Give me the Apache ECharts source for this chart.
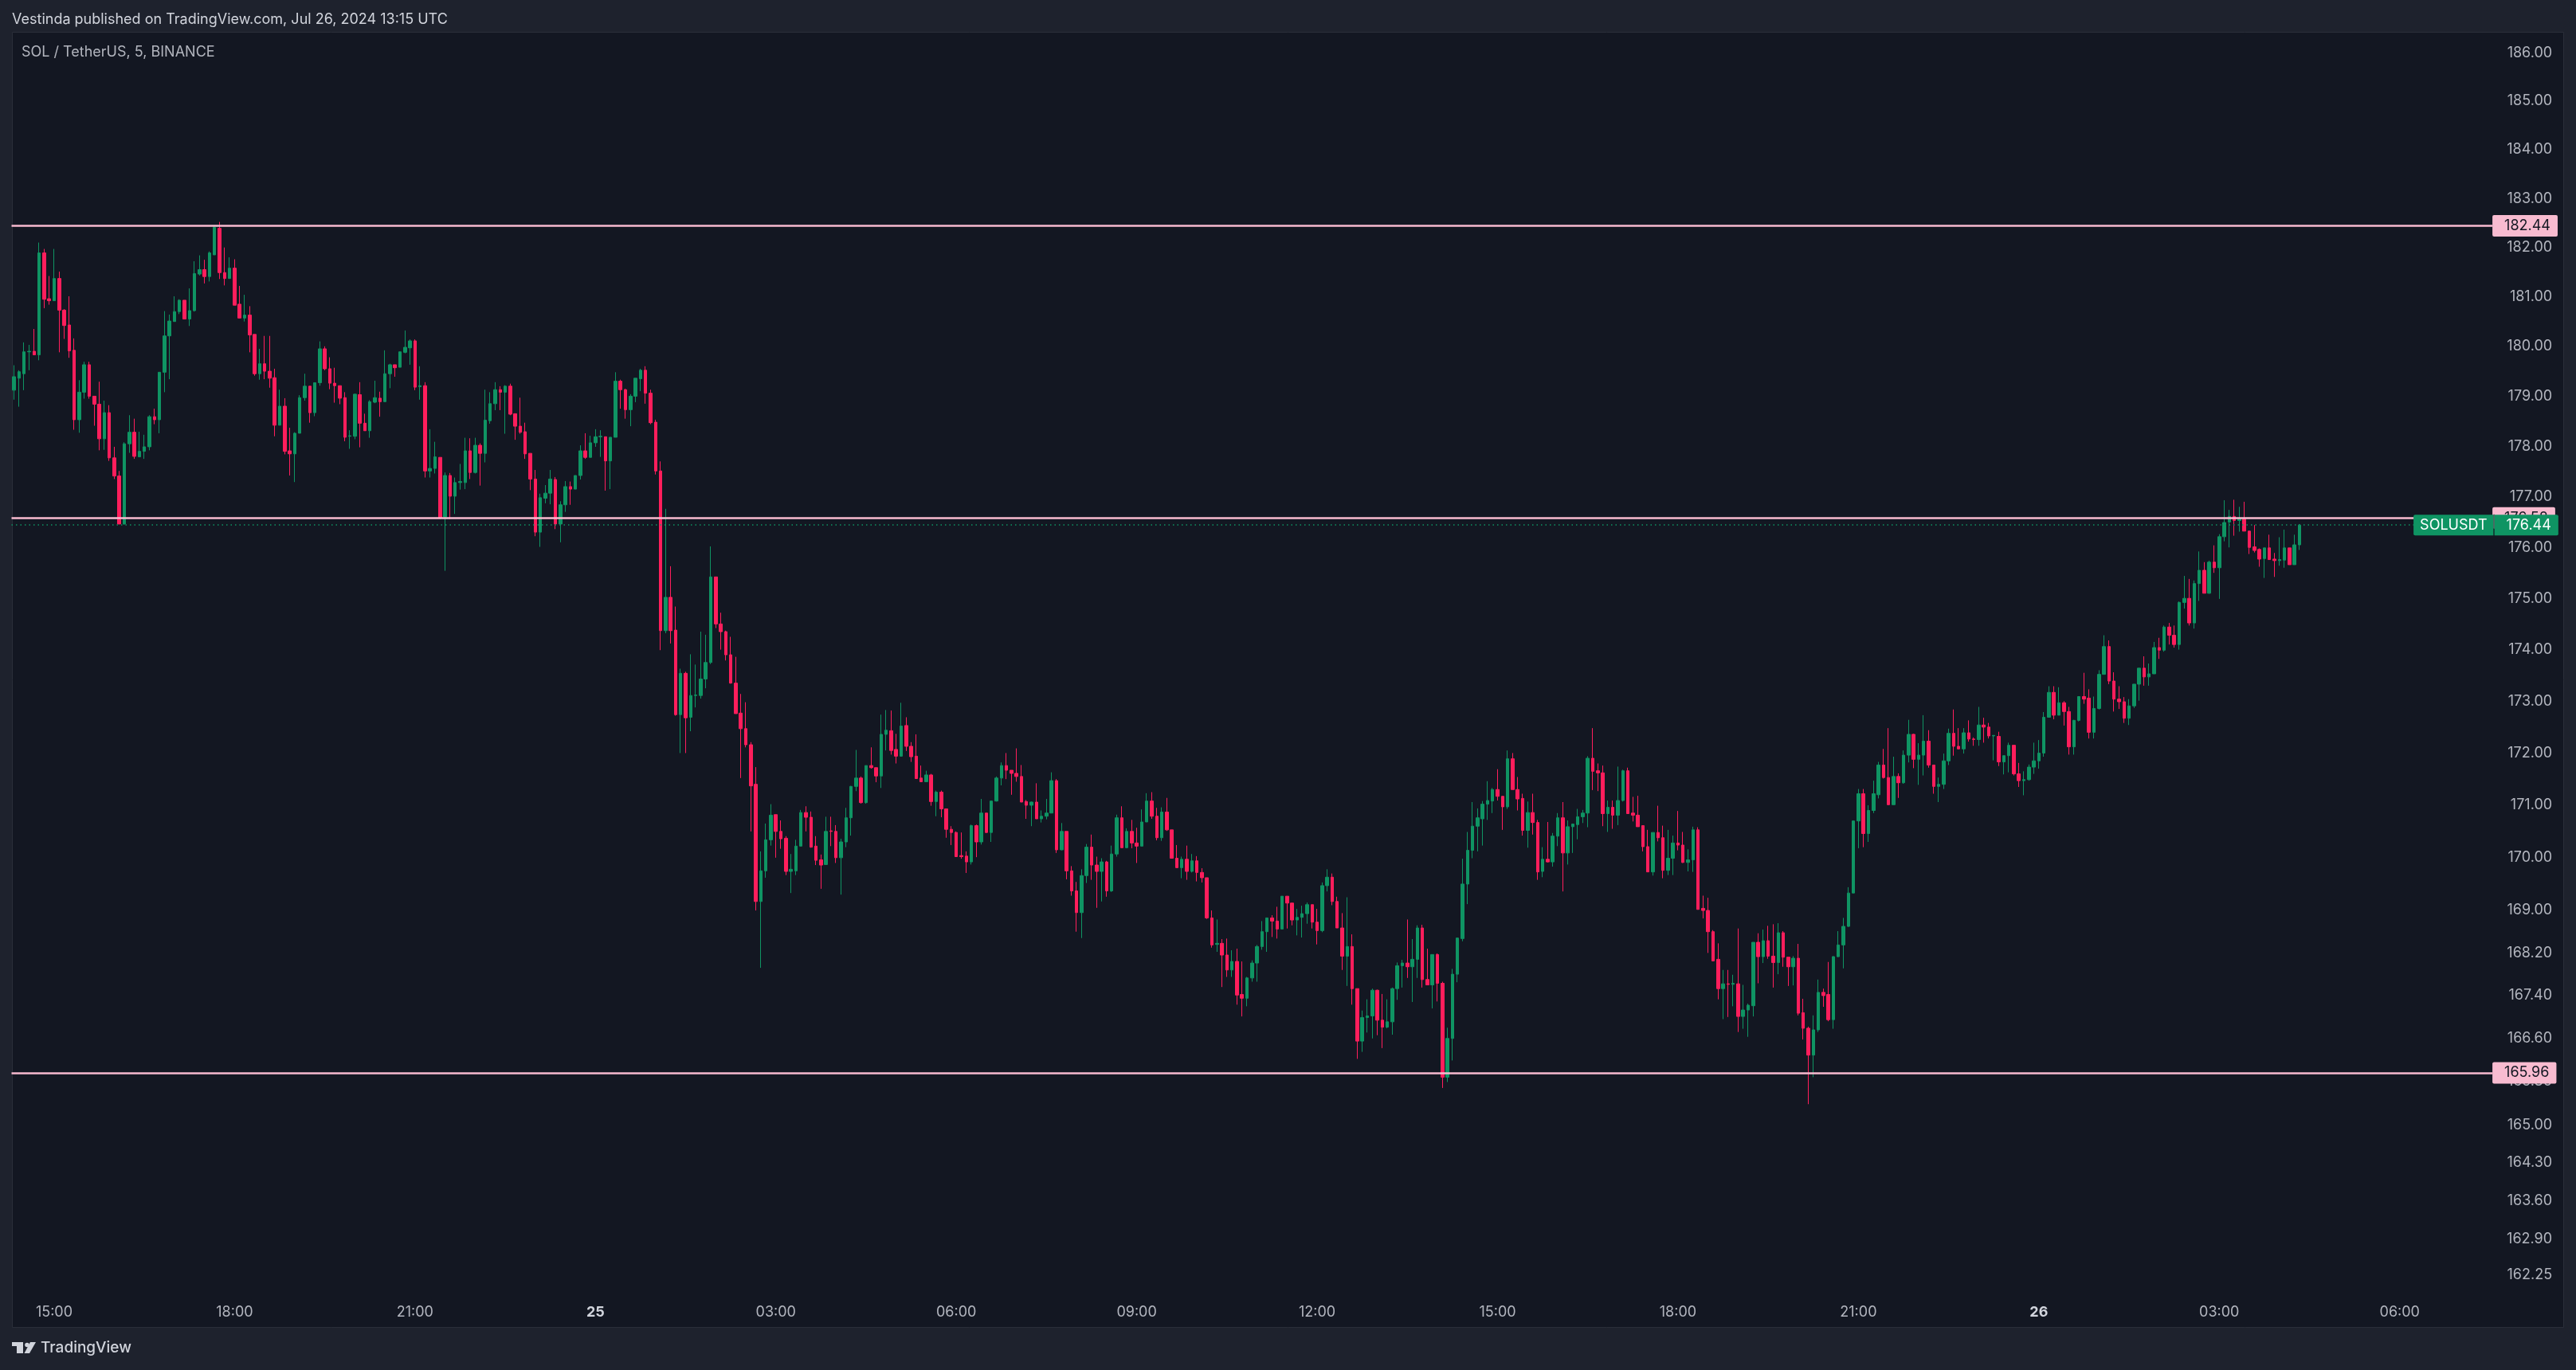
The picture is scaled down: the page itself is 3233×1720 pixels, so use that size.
<!DOCTYPE html>
<html>
<head>
<meta charset="utf-8">
<title>SOL / TetherUS, 5, BINANCE</title>
<script src="https://cdn.jsdelivr.net/npm/echarts@6/dist/echarts.min.js"></script>
<style>
  html, body { margin: 0; padding: 0; background: #1e222d; }
  #chart { width: 3233px; height: 1720px; }
</style>
</head>
<body>
<div id="chart"></div>
<script>
// 5 minute candles, each row is [open, close, low, high]
const jul24 = [
  [179.12,179.39,178.93,179.62],[179.36,179.49,178.79,179.52],[179.45,179.89,179.12,180.08],[179.89,179.90,179.52,180.03],
  [179.90,179.83,179.83,180.35],[179.83,181.89,179.72,182.10],[181.89,180.95,180.77,181.97],[180.96,180.92,180.84,181.42],
  [180.92,181.37,180.92,181.97],[181.37,180.73,179.88,181.51],[180.73,180.42,180.15,180.75],[180.43,179.91,179.77,181.01],
  [179.92,178.53,178.33,180.16],[178.53,179.08,178.27,179.32],[179.08,179.63,178.95,179.69],[179.63,179.00,178.95,179.69],
  [179.00,178.84,178.41,179.00],[178.84,178.15,177.92,179.29],[178.15,178.67,177.93,178.91],[178.67,177.77,177.71,178.82],
  [177.77,177.41,177.35,177.99],[177.41,176.46,176.46,177.51],[176.46,178.05,176.45,178.08],[178.05,178.28,177.87,178.62],
  [178.28,177.80,177.75,178.55],[177.79,177.90,177.79,178.29],[177.90,177.99,177.75,178.23],[177.99,178.59,177.92,178.62],
  [178.59,178.53,178.44,178.75],[178.53,179.48,178.26,179.48],[179.48,180.21,179.08,180.71],[180.21,180.51,179.34,180.64],
  [180.50,180.70,180.50,181.01],[180.70,180.93,180.65,180.95],[180.93,180.55,180.55,180.93],[180.55,180.72,180.41,181.17],
  [180.72,181.47,180.70,181.72],[181.46,181.55,181.43,181.84],[181.55,181.41,181.27,181.75],[181.41,181.89,181.31,181.92],
  [181.85,182.41,181.85,182.44],[182.39,181.49,181.36,182.52],[181.49,181.37,181.23,182.00],[181.37,181.58,181.37,181.80],
  [181.58,180.83,180.83,181.76],[180.85,180.57,180.57,181.22],[180.57,180.63,180.50,181.04],[180.63,180.23,179.88,180.81],
  [180.24,179.45,179.41,180.24],[179.45,179.65,179.33,179.95],[179.65,179.50,179.34,180.21],[179.50,179.36,179.17,180.21],
  [179.37,178.42,178.20,179.55],[178.42,178.80,178.42,179.13],[178.80,177.90,177.84,178.96],[177.91,177.85,177.42,178.37],
  [177.85,178.26,177.29,178.28],[178.26,178.97,178.26,179.02],[178.97,179.20,178.91,179.45],[179.20,178.67,178.47,179.20],
  [178.67,179.27,178.60,179.27],[179.27,179.95,179.21,180.10],[179.95,179.55,179.52,180.00],[179.55,179.26,179.14,179.78],
  [179.26,179.21,178.87,179.57],[179.21,178.96,178.84,179.21],[178.97,178.18,178.10,179.08],[178.20,178.21,177.95,178.32],
  [178.20,179.04,178.14,179.05],[179.03,178.46,177.98,179.28],[178.46,178.31,178.31,178.65],[178.31,178.89,178.17,178.92],
  [178.88,178.97,178.86,179.31],[178.96,178.89,178.59,179.09],[178.89,179.45,178.89,179.92],[179.45,179.63,179.16,179.65],
  [179.63,179.57,179.39,179.63],[179.58,179.89,179.58,179.89],[179.88,179.98,179.86,180.32],[179.97,180.11,179.63,180.14],
  [180.11,179.18,179.12,180.14],[179.19,179.21,178.93,179.60],[179.21,177.51,177.38,179.28],[177.51,177.56,177.38,178.34],
  [177.56,177.79,177.46,178.09],[177.78,176.58,176.56,177.78],[176.60,177.42,175.54,177.48],[177.42,177.01,176.56,177.47],
  [177.01,177.28,176.66,177.38],[177.28,177.30,177.14,177.65],[177.28,177.91,177.15,178.17],[177.91,177.48,177.35,178.16],
  [177.48,178.02,177.46,178.17],[178.02,177.86,177.22,178.06],[177.86,178.52,177.68,179.13],[178.51,178.85,178.45,179.08],
  [178.85,179.13,178.72,179.28],[179.13,179.08,178.72,179.20],[179.08,179.20,178.25,179.22],[179.20,178.64,178.62,179.25],
  [178.65,178.40,178.13,178.65],[178.40,178.28,178.25,178.97],[178.29,177.85,177.75,178.47],[177.86,177.35,177.13,177.86],
  [177.35,176.30,176.22,177.53],[176.30,176.98,176.01,177.06],[176.97,177.07,176.87,177.23],[177.07,177.35,176.85,177.53],
  [177.34,176.46,176.36,177.39],[176.46,176.84,176.10,176.91],[176.84,177.20,176.70,177.31],[177.20,177.15,176.84,177.30],
  [177.15,177.42,177.15,177.42],[177.42,177.91,177.34,178.02],[177.91,177.78,177.75,178.26],[177.78,178.07,177.78,178.21]
];
const jul25 = [
  [178.07,178.19,177.99,178.34],[178.19,178.20,177.79,178.32],[178.19,177.71,177.12,178.19],[177.71,178.18,177.15,178.18],
  [178.18,179.30,178.18,179.48],[179.30,179.13,178.75,179.33],[179.13,178.73,178.55,179.15],[178.73,179.00,178.40,179.04],
  [179.00,179.36,178.88,179.36],[179.35,179.52,179.10,179.55],[179.52,179.06,178.85,179.60],[179.06,178.47,178.44,179.13],
  [178.48,177.51,177.44,178.53],[177.51,174.37,173.99,177.70],[174.37,175.02,174.32,176.76],[175.02,174.37,174.12,175.63],
  [174.38,172.74,172.72,174.84],[172.74,173.54,172.00,173.63],[173.54,172.68,172.00,173.57],[172.69,173.11,172.42,173.91],
  [173.11,173.12,172.88,173.71],[173.11,173.43,173.05,174.35],[173.43,173.75,173.25,174.29],[173.75,175.42,173.72,176.02],
  [175.42,174.50,174.42,175.42],[174.50,174.35,174.00,174.72],[174.35,173.90,173.79,174.37],[173.90,173.35,173.34,174.25],
  [173.35,172.76,172.76,173.86],[172.77,172.47,171.52,173.14],[172.47,172.16,172.11,172.98],[172.16,171.37,170.50,172.21],
  [171.40,169.17,169.00,171.73],[169.17,169.75,167.92,170.12],[169.75,170.34,169.62,170.65],[170.34,170.81,170.23,171.02],
  [170.82,170.50,170.00,170.82],[170.50,170.36,170.17,170.71],[170.37,169.74,169.67,170.41],[169.74,169.78,169.33,170.07],
  [169.75,170.22,169.67,170.34],[170.22,170.86,170.22,170.91],[170.86,170.77,170.50,170.98],[170.77,170.20,170.19,170.88],
  [170.22,169.95,169.86,170.41],[169.96,169.86,169.41,170.06],[169.87,170.50,169.87,170.78],[170.51,170.50,170.22,170.78],
  [170.50,170.00,169.90,170.62],[170.00,170.30,169.30,170.36],[170.30,170.76,170.20,170.95],[170.76,171.36,170.42,171.37],
  [171.36,171.52,171.27,172.06],[171.52,171.05,171.03,171.55],[171.05,171.76,171.03,171.76],[171.76,171.72,171.70,172.11],
  [171.72,171.56,171.44,171.72],[171.56,172.36,171.33,172.74],[172.36,172.44,172.05,172.83],[172.43,172.05,171.97,172.82],
  [172.07,171.94,171.80,172.37],[171.94,172.52,171.93,172.97],[172.53,172.13,172.04,172.69],[172.13,171.93,171.83,172.21],
  [171.94,171.51,171.51,172.36],[171.52,171.45,171.45,171.76],[171.45,171.58,171.45,171.66],[171.58,171.07,170.99,171.60],
  [171.07,171.25,170.79,171.28],[171.25,170.93,170.77,171.28],[170.93,170.54,170.38,170.93],[170.54,170.48,170.24,170.60],
  [170.48,170.02,170.02,170.50],[170.04,170.02,169.98,170.48],[170.03,169.92,169.71,170.12],[169.92,170.61,169.87,170.63],
  [170.61,170.30,170.01,170.63],[170.30,170.85,170.25,171.12],[170.85,170.48,170.47,170.85],[170.48,171.08,170.30,171.08],
  [171.08,171.52,171.07,171.55],[171.52,171.76,171.38,171.82],[171.76,171.67,171.50,172.00],[171.67,171.61,171.20,171.67],
  [171.61,171.55,171.45,172.09],[171.55,171.06,171.06,171.77],[171.07,171.00,170.74,171.10],[171.00,171.06,170.60,171.07],
  [171.06,170.74,170.74,171.42],[170.74,170.79,170.67,170.90],[170.79,170.85,170.73,171.12],[170.85,171.47,170.85,171.63],
  [171.47,170.15,170.09,171.50],[170.15,170.50,170.14,170.66],[170.50,169.75,169.59,170.50],[169.75,169.37,169.28,169.84],
  [169.37,168.96,168.60,169.54],[168.96,169.66,168.48,169.78],[169.66,170.20,169.52,170.26],[170.20,169.86,169.58,170.44],
  [169.86,169.74,169.05,170.02],[169.74,169.92,169.17,169.99],[169.92,169.37,169.26,169.94],[169.37,170.07,169.35,170.23],
  [170.07,170.76,170.02,170.82],[170.76,170.19,170.19,170.98],[170.19,170.50,170.18,170.56],[170.50,170.28,170.18,170.72],
  [170.28,170.22,169.90,170.57],[170.22,170.68,170.22,170.92],[170.68,171.08,170.68,171.23],[171.08,170.79,170.74,171.25],
  [170.79,170.38,170.33,170.95],[170.38,170.87,170.32,170.96],[170.87,170.53,170.51,171.14],[170.53,169.99,169.99,170.53],
  [169.99,169.81,169.81,170.24],[169.81,169.97,169.61,170.02],[169.97,169.74,169.58,170.23],[169.74,169.94,169.72,170.07],
  [169.94,169.72,169.55,170.03],[169.72,169.62,169.53,169.80],[169.62,168.86,168.84,169.62],[168.86,168.35,168.30,169.00],
  [168.36,168.38,168.22,168.83],[168.38,168.16,167.56,168.46],[168.16,167.88,167.75,168.47],[167.88,168.04,167.75,168.25],
  [168.04,167.41,167.23,168.28],[167.42,167.35,167.01,168.04],[167.35,167.73,167.20,167.75],[167.73,168.01,167.66,168.06],
  [168.01,168.32,167.66,168.35],[168.32,168.60,168.26,168.80],[168.60,168.86,168.22,168.86],[168.86,168.80,168.50,168.91],
  [168.80,168.65,168.47,169.07],[168.65,169.27,168.65,169.27],[169.27,169.14,168.66,169.27],[169.14,168.82,168.72,169.14],
  [168.82,168.87,168.53,169.03],[168.87,168.94,168.49,169.09],[168.94,169.11,168.75,169.15],[169.11,168.78,168.66,169.11],
  [168.78,168.62,168.36,169.03],[168.62,169.47,168.59,169.53],[169.47,169.63,169.36,169.78],[169.63,169.17,169.10,169.70],
  [169.17,168.67,168.67,169.26],[168.67,168.14,167.88,168.95],[168.14,168.32,167.58,169.25],[168.32,167.53,167.23,168.55],
  [167.53,166.55,166.22,167.53],[166.55,166.99,166.35,167.12],[166.99,167.02,166.71,167.33],[167.02,167.50,166.60,167.53],
  [167.50,166.94,166.66,167.51],[166.94,166.81,166.42,167.43],[166.81,166.91,166.79,167.33],[166.91,167.53,166.67,167.55],
  [167.53,167.96,167.32,168.02],[167.96,168.01,167.55,168.07],[168.01,167.94,167.73,168.83],[167.94,168.08,167.28,168.46],
  [168.08,168.67,167.73,168.72],[168.67,167.70,167.55,168.73],[167.70,167.60,167.60,168.28],[167.60,168.17,167.16,168.17],
  [168.17,167.63,167.29,168.19],[167.63,165.88,165.68,167.66],[165.88,166.60,165.79,166.80],[166.60,167.80,166.19,167.90],
  [167.80,168.48,167.65,168.49],[168.47,169.50,168.42,169.98],[169.50,170.14,169.12,170.49],[170.14,170.60,169.99,171.06],
  [170.60,170.76,170.12,170.94],[170.74,171.02,170.23,171.08],[171.02,171.09,170.72,171.46],[171.08,171.30,170.85,171.33],
  [171.30,171.17,171.09,171.69],[171.17,170.97,170.53,171.17],[170.97,171.89,170.93,172.05],[171.89,171.30,171.30,172.00],
  [171.30,171.12,170.90,171.54],[171.13,170.52,170.42,171.22],[170.52,170.86,170.19,171.07],[170.86,170.67,170.44,171.22],
  [170.67,169.73,169.58,170.72],[169.74,169.97,169.63,170.20],[169.97,169.92,169.91,170.68],[169.92,170.41,169.83,170.47],
  [170.41,170.76,170.22,170.85],[170.76,170.09,169.36,171.06],[170.09,170.59,169.87,170.71],[170.59,170.64,170.09,170.65],
  [170.63,170.78,170.35,170.93],[170.78,170.85,170.66,170.91],[170.85,171.90,170.58,171.94],[171.90,171.65,171.29,172.48],
  [171.66,171.62,171.27,171.80],[171.62,170.84,170.60,171.76],[170.84,170.96,170.49,171.09],[170.96,170.81,170.55,171.09],
  [170.81,171.09,170.62,171.74],[171.09,171.66,171.07,171.68],[171.66,170.84,170.84,171.72],[170.85,170.81,170.69,171.16],
  [170.81,170.59,170.59,171.18],[170.61,170.21,170.12,170.61],[170.21,169.73,169.73,170.53],[169.73,170.48,169.66,170.48],
  [170.48,170.38,170.31,170.99],[170.38,169.76,169.61,170.61],[169.76,169.99,169.67,170.53],[169.99,170.28,169.67,170.42],
  [170.28,170.24,170.14,170.89],[170.24,169.91,169.90,170.49],[169.91,169.96,169.74,170.16],[169.96,170.53,169.73,170.59],
  [170.53,169.02,169.02,170.58],[169.04,169.00,168.85,169.28],[169.00,168.60,168.20,169.24],[168.60,168.05,168.05,168.63],
  [168.08,167.53,167.33,168.38],[167.53,167.62,166.96,167.88],[167.62,167.61,167.00,167.88],[167.61,167.63,167.20,167.79],
  [167.62,167.01,166.72,168.66],[167.01,167.13,166.78,167.60],[167.13,167.22,166.63,167.25],[167.21,168.40,167.01,168.40],
  [168.40,168.13,167.63,168.57],[168.13,168.43,168.01,168.64],[168.43,168.14,168.09,168.71],[168.14,168.02,167.55,168.74],
  [168.02,168.58,167.80,168.76],[168.58,168.12,167.94,168.61],[168.12,167.94,167.58,168.12],[167.94,168.10,167.59,168.14],
  [168.10,167.07,167.03,168.37],[167.08,166.79,166.58,167.34],[166.79,166.29,165.38,166.82],[166.29,166.76,165.88,167.03],
  [166.76,167.46,166.72,167.70],[167.46,167.40,167.19,167.53],[167.42,166.95,166.92,168.03],[166.95,168.13,166.78,168.14],
  [168.13,168.35,168.12,168.61],[168.35,168.70,167.91,168.86],[168.70,169.33,168.69,169.44],[169.33,170.70,169.33,170.71],
  [170.70,171.22,170.18,171.31],[171.22,170.46,170.20,171.31],[170.46,170.90,170.30,171.00],[170.90,171.22,170.85,171.47],
  [171.20,171.77,171.13,171.83],[171.77,171.53,171.51,172.08],[171.53,171.01,171.01,172.48],[171.01,171.55,171.01,171.93],
  [171.55,171.43,171.14,171.61],[171.43,171.96,171.41,172.05],[171.96,172.36,171.82,172.64],[172.36,171.88,171.71,172.37],
  [171.88,171.96,171.39,172.19],[171.96,172.23,171.57,172.73],[172.23,171.77,171.72,172.44],[171.77,171.36,171.22,171.77],
  [171.36,171.40,171.06,171.53],[171.40,171.85,171.31,171.99],[171.85,172.38,171.77,172.47],[172.38,172.13,171.95,172.84],
  [172.13,172.08,172.07,172.48],[172.08,172.39,171.99,172.48],[172.39,172.27,172.22,172.63],[172.27,172.26,172.14,172.30],
  [172.26,172.54,172.14,172.89],[172.54,172.50,172.20,172.68],[172.50,172.33,172.28,172.58],[172.33,172.34,171.86,172.34],
  [172.32,171.83,171.75,172.41],[171.83,171.95,171.59,171.95],[171.95,172.15,171.63,172.20],[172.15,171.60,171.57,172.15],
  [171.60,171.47,171.35,171.81],[171.47,171.49,171.19,171.65],[171.49,171.73,171.47,171.78],[171.73,171.85,171.60,172.20]
];
const jul26 = [
  [171.85,172.00,171.70,172.25],[172.00,172.69,171.93,172.79],[172.69,173.17,172.69,173.29],[173.17,172.73,172.65,173.29],
  [172.73,172.97,172.73,173.27],[172.97,172.80,172.53,173.00],[172.80,172.12,171.97,172.89],[172.12,172.63,171.97,172.64],
  [172.63,173.09,172.61,173.09],[173.09,173.04,172.95,173.55],[173.06,172.40,172.28,173.23],[172.40,172.86,172.28,173.09],
  [172.86,173.52,172.84,173.60],[173.52,174.06,173.52,174.28],[174.06,173.39,173.33,174.18],[173.39,173.04,172.80,173.56],
  [173.04,172.99,172.85,173.29],[172.99,172.67,172.58,173.08],[172.67,172.91,172.54,173.04],[172.91,173.33,172.87,173.33],
  [173.33,173.64,173.01,173.64],[173.64,173.47,173.30,173.87],[173.47,173.53,173.30,173.73],[173.53,174.04,173.53,174.15],
  [174.04,173.99,173.82,174.23],[173.99,174.44,173.96,174.47],[174.44,174.28,174.10,174.52],[174.28,174.10,174.04,174.47],
  [174.10,174.92,174.00,174.94],[174.92,175.00,174.80,175.44],[175.00,174.52,174.47,175.38],[174.52,175.29,174.41,175.35],
  [175.29,175.55,174.95,175.92],[175.55,175.10,175.10,175.71],[175.10,175.71,175.09,175.74],[175.71,175.60,175.50,176.04],
  [175.60,176.21,174.99,176.26],[176.21,176.49,176.12,176.93],[176.50,176.61,176.00,176.74],[176.61,176.53,176.23,176.94],
  [176.53,176.56,176.31,176.80],[176.56,176.32,176.32,176.90],[176.32,176.00,175.87,176.33],[176.01,175.94,175.90,176.44],
  [175.96,175.77,175.62,175.98],[175.78,175.99,175.40,175.99],[175.99,175.76,175.76,176.25],[175.77,175.74,175.42,175.89],
  [175.74,175.76,175.64,176.20],[175.75,175.99,175.60,176.35],[175.99,175.66,175.66,175.99],[175.66,176.05,175.66,176.25],
  [176.05,176.44,175.95,176.46]
];

const levels = [182.44, 176.58, 165.96];   // drawn horizontal lines
const lastPrice = 176.44;
const priceTicks = [186, 185, 184, 183, 182, 181, 180, 179, 178, 177, 176, 175, 174, 173, 172, 171, 170,
                    169, 168.2, 167.4, 166.6, 165.8, 165, 164.3, 163.6, 162.9, 162.25];

const firstBar = Date.UTC(2024, 6, 24, 14, 20);
const barMs = 5 * 60 * 1000;
const slotCount = 495;   // bars plus the empty space on the right

const FONT = 'Inter, Roboto, sans-serif';
const UP = '#0f9463';
const DOWN = '#ff1e5c';
const PINK = '#f8bbd0';
const TEXT = '#b2b5be';
const LOGO = '#d1d4dc';

const pad = n => String(n).padStart(2, '0');
const slots = [];
for (let k = 0; k < slotCount; k++) {
  const d = new Date(firstBar + k * barMs);
  slots.push(d.getUTCDate() + ' ' + pad(d.getUTCHours()) + ':' + pad(d.getUTCMinutes()));
}

const chart = echarts.init(document.getElementById('chart'));

const pinkLabel = {
  show: true, position: 'end', distance: 0,
  formatter: p => Number(p.value).toFixed(2),
  backgroundColor: PINK, color: '#131722',
  fontFamily: FONT, fontSize: 18, lineHeight: 19,
  padding: [4, 9, 4, 15], borderRadius: 2
};

const option = {
  backgroundColor: '#1e222d',
  animation: false,
  title: [
    {
      text: 'Vestinda published on TradingView.com, Jul 26, 2024 13:15 UTC',
      left: 15, top: 16, padding: 0,
      textStyle: { color: LOGO, fontSize: 18, fontWeight: 'normal', fontFamily: FONT }
    },
    {
      text: 'SOL / TetherUS, 5, BINANCE',
      left: 27, top: 57, padding: 0,
      textStyle: { color: TEXT, fontSize: 18, fontWeight: 'normal', fontFamily: FONT }
    }
  ],
  graphic: [
    {
      type: 'rect', z: -10, silent: true,
      shape: { x: 15.5, y: 40.5, width: 3202, height: 1626 },
      style: { fill: '#131722', stroke: '#2a2e39', lineWidth: 1 }
    },
    {
      type: 'group', left: 15, top: 1685, silent: true,
      children: [
        { type: 'rect', shape: { x: 0, y: 0, width: 14, height: 5 }, style: { fill: LOGO } },
        { type: 'rect', shape: { x: 6, y: 0, width: 8, height: 14 }, style: { fill: LOGO } },
        { type: 'circle', shape: { cx: 19, cy: 3.5, r: 2.8 }, style: { fill: LOGO } },
        { type: 'polygon', shape: { points: [[23, 0], [30, 0], [22, 14], [15.5, 14]] }, style: { fill: LOGO } }
      ]
    },
    {
      type: 'text', left: 51, top: 1683, silent: true,
      style: { text: 'TradingView', fill: LOGO, font: '500 19px ' + FONT }
    }
  ],
  grid: { left: 14.5, right: 104.9, top: 40, bottom: 90, outerBoundsMode: 'none' },
  xAxis: {
    type: 'category',
    data: slots,
    boundaryGap: true,
    axisLine: { show: false },
    axisTick: { show: false },
    splitLine: { show: false },
    axisLabel: {
      interval: (idx, val) => {
        const t = val.split(' ')[1];
        return t.endsWith(':00') && Number(t.slice(0, 2)) % 3 === 0;
      },
      formatter: val => {
        const parts = val.split(' ');
        return parts[1] === '00:00' ? '{day|' + parts[0] + '}' : parts[1];
      },
      color: TEXT, fontSize: 18, fontFamily: FONT, margin: 9,
      rich: { day: { color: LOGO, fontWeight: 'bold', fontSize: 18, fontFamily: FONT } }
    }
  },
  yAxis: {
    type: 'log',
    position: 'right',
    min: 161.83,
    max: 186.44,
    axisLine: { show: false },
    axisTick: { show: false },
    splitLine: { show: false },
    axisLabel: {
      customValues: priceTicks,
      formatter: v => Number(v).toFixed(2),
      align: 'right', margin: 75,
      color: TEXT, fontSize: 18, fontFamily: FONT
    }
  },
  series: [
    {
      name: 'SOLUSDT',
      type: 'candlestick',
      data: jul24.concat(jul25, jul26),
      barWidth: 4,
      itemStyle: { color: UP, color0: DOWN, borderColor: UP, borderColor0: DOWN, borderWidth: 1 },
      markLine: {
        silent: true,
        symbol: ['none', 'none'],
        animation: false,
        data: levels.map(v => ({
          yAxis: v,
          lineStyle: { color: PINK, width: 2.5, type: 'solid' },
          label: pinkLabel
        })).concat([{
          yAxis: lastPrice,
          lineStyle: { color: UP, width: 1.5, type: [1.5, 4] },
          label: {
            show: true, position: 'end', distance: -99,
            formatter: '{name|SOLUSDT}{gap|}{val|' + lastPrice.toFixed(2) + '}',
            rich: {
              name: { backgroundColor: UP, color: '#ffffff', fontSize: 18, fontFamily: FONT, lineHeight: 19,
                      padding: [4, 8, 4, 8], borderRadius: [2, 0, 0, 2] },
              gap: { width: 1, height: 27, backgroundColor: '#131722' },
              val: { backgroundColor: UP, color: '#ffffff', fontSize: 18, fontFamily: FONT, lineHeight: 19,
                     padding: [4, 9, 4, 15], borderRadius: [0, 2, 2, 0] }
            }
          }
        }])
      }
    }
  ]
};

chart.setOption(option);
</script>
</body>
</html>
